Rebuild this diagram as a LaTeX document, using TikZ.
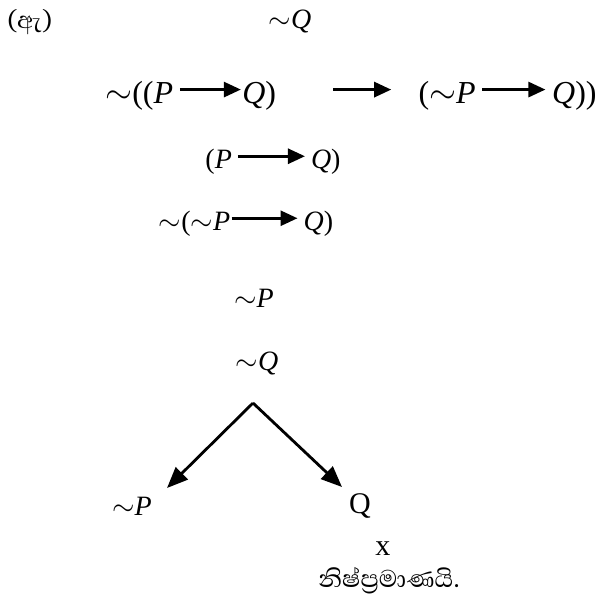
\documentclass[tikz,border=0pt]{standalone}
\usepackage{fontspec}
\setmainfont{Liberation Serif}
\newfontfamily\sinhalafont[Script=Sinhala]{Abhaya Libre}
\usetikzlibrary{arrows.meta,positioning}
% negation sign and inline implication arrow of given length
\newcommand{\nt}{\ensuremath{\mathord{\sim}}}
\newcommand{\impl}[1]{\tikz[baseline=-0.42em]\draw[line width=1.4pt,-{Triangle[length=8.5pt,width=7.5pt]}](0pt,0pt)--(#1,0pt);}

\begin{document}
\begin{tikzpicture}[x=0.5pt,y=-0.5pt,
  frm/.style={font=\fontsize{14}{16}\selectfont,inner sep=0pt,anchor=base},
  bigfrm/.style={font=\fontsize{16}{18}\selectfont,inner sep=0pt},
  treearrow/.style={line width=1.4pt,-{Triangle[length=10.5pt,width=8.5pt]}}]
\useasboundingbox(0,0)rectangle(600,602);
\node[font=\sinhalafont\fontsize{15}{17}\selectfont,inner sep=0pt,anchor=base west](lbl)at(7,28){(ඇ)};
\node[frm](top)at(290,28){\nt\textit{Q}};
% row of the negated conditional
\node[bigfrm,anchor=base west](lhs)at(105,103){\nt((\textit{P}\,\impl{30.5pt}\textit{Q})};
\node[bigfrm,anchor=base east](rhs)at(597,103){(\nt\textit{P}\,\impl{31.5pt}\,\textit{Q}))};
\draw[line width=1.4pt,-{Triangle[length=8.5pt,width=7.5pt]}]
  ([xshift=28.5pt,yshift=6.7pt]lhs.base east)--([xshift=-13.5pt,yshift=6.7pt]rhs.base west);
% branch lines
\node[frm](pq)at(273,168){(\textit{P}\,\impl{33.5pt}\,\textit{Q})};
\node[frm](npq)at(246,230){\nt(\nt\textit{P}\impl{33pt}\,\textit{Q})};
\node[frm](np)at(254,307){\nt\textit{P}};
\node[frm](nq)at(257,370){\nt\textit{Q}};
% split
\coordinate(apex)at(253,403);
\node[frm](lp)at(132,515){\nt\textit{P}};
\node[font=\fontsize{15}{17}\selectfont,inner sep=0pt,anchor=base](rq)at(360,513){Q};
\coordinate(lt)at(167,488);
\coordinate(rt)at(342,487);
\draw[treearrow](apex)--(lt);
\draw[treearrow](apex)--(rt);
\node[font=\fontsize{15}{17}\selectfont,inner sep=0pt,anchor=base](cross)at(383,555){x};
\node[font=\sinhalafont\fontsize{15.5}{17}\selectfont,inner sep=0pt,anchor=base](res)at(389,587){නිෂ්ප්^^^^200dරමාණයි.};
\end{tikzpicture}
\end{document}
